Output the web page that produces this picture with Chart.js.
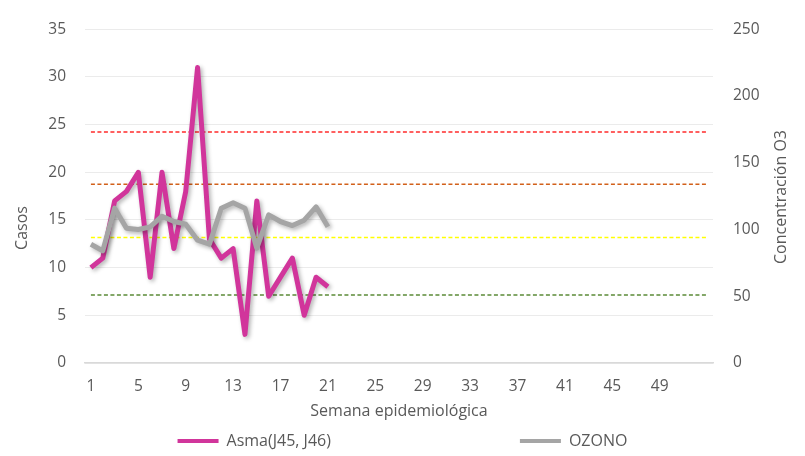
<!DOCTYPE html>
<html>
<head>
<meta charset="utf-8">
<script src="https://cdn.jsdelivr.net/npm/chart.js@4.4.0/dist/chart.umd.min.js"></script>
<style>
  html, body { margin: 0; padding: 0; background: #ffffff; }
  #wrap { width: 805px; height: 456px; position: relative; }
</style>
</head>
<body>
<div id="wrap"><canvas id="chartO3" width="805" height="456"></canvas></div>
<script>
// weeks (last category is blank, like the source sheet)
var weeks = ['1','2','3','4','5','6','7','8','9','10','11','12','13','14','15','16','17','18','19','20',
  '21','22','23','24','25','26','27','28','29','30','31','32','33','34','35','36','37','38','39','40',
  '41','42','43','44','45','46','47','48','49','50','51','52',''];

// Asma (J45, J46) - casos por semana
var asma = [10, 11, 17, 18, 20, 9, 20, 12, 18, 31, 13, 11, 12, 3, 17, 7, 9, 11, 5, 9, 8];

// OZONO - concentracion O3
var ozono = [89, 84, 116, 101, 100, 102, 110, 106, 104, 92, 89, 116, 120, 116, 86, 111, 106, 103, 107, 117, 102];

// limites de referencia O3 (eje derecho)
var limites = [173, 134, 94, 51];

var colores = { asma: "#D1359B", ozono: "#A5A5A5", texto: "#595959", grid: "#EBEBEB" };
var coloresLimite = ["#FF2B2B", "#D2601A", "#FFFF00", "#5B8A37"];

var fuente = "'Open Sans', 'DejaVu Sans', sans-serif";

// dashed reference lines, from first to last category
var limiteSets = limites.map(function(v, i) {
  return {
    label: "limite" + i,
    data: [{x: weeks[0], y: v}, {x: weeks[weeks.length - 1], y: v}],
    yAxisID: "y1",
    borderColor: coloresLimite[i],
    borderWidth: 1.5,
    borderDash: [4, 2.5],
    pointRadius: 0,
    fill: false,
    order: 3
  };
});

// Excel-like soft shadow under the two series
var sombra = {
  id: "sombra",
  beforeDatasetDraw: function(chart, args) {
    if (args.index > 1) return;
    var ctx = chart.ctx;
    ctx.save();
    ctx.shadowColor = "rgba(0,0,0,0.30)";
    ctx.shadowBlur = 4;
    ctx.shadowOffsetX = 2;
    ctx.shadowOffsetY = 2;
  },
  afterDatasetDraw: function(chart, args) {
    if (args.index > 1) return;
    chart.ctx.restore();
  }
};

// vertical axis titles, both read bottom-to-top like the original
var titulos = {
  id: "titulos",
  afterDraw: function(chart) {
    var ctx = chart.ctx;
    ctx.save();
    ctx.fillStyle = colores.texto;
    ctx.font = "16px " + fuente;
    ctx.textAlign = "center";
    ctx.textBaseline = "middle";
    ctx.translate(22, 228);
    ctx.rotate(-Math.PI / 2);
    ctx.fillText("Casos", 0, 0);
    ctx.restore();

    ctx.save();
    ctx.fillStyle = colores.texto;
    ctx.font = "16px " + fuente;
    ctx.textAlign = "center";
    ctx.textBaseline = "middle";
    ctx.translate(781, 197);
    ctx.rotate(-Math.PI / 2);
    ctx.fillText("Concentración O3", 0, 0);
    ctx.restore();
  }
};

var chart = new Chart(document.getElementById("chartO3").getContext("2d"), {
  type: "line",
  data: {
    labels: weeks,
    datasets: [
      {
        label: "Asma(J45, J46)",
        data: asma,
        yAxisID: "y",
        borderColor: colores.asma,
        backgroundColor: colores.asma,
        borderWidth: 5,
        pointRadius: 0,
        tension: 0,
        borderJoinStyle: "round",
        order: 2
      },
      {
        label: "OZONO",
        data: ozono,
        yAxisID: "y1",
        borderColor: colores.ozono,
        backgroundColor: colores.ozono,
        borderWidth: 5,
        pointRadius: 0,
        tension: 0,
        borderJoinStyle: "round",
        order: 1
      }
    ].concat(limiteSets)
  },
  options: {
    responsive: false,
    animation: false,
    layout: { padding: { top: 22, left: 0, right: 0, bottom: -3 } },
    plugins: {
      tooltip: { enabled: false },
      legend: {
        position: "bottom",
        onClick: null,
        labels: {
          color: colores.texto,
          font: { family: fuente, size: 16 },
          boxWidth: 41,
          boxHeight: 4,
          padding: 10,
          generateLabels: function(chart) {
            var ds = chart.data.datasets;
            var item = function(i) {
              return { text: ds[i].label, fillStyle: ds[i].borderColor, strokeStyle: ds[i].borderColor,
                       lineWidth: 0, hidden: false, datasetIndex: i, fontColor: colores.texto };
            };
            // blank spacer so the two entries sit apart as in the original
            var hueco = { text: "\u2003\u2003\u2003\u2003\u2003\u2003\u2003\u2002", fillStyle: "rgba(0,0,0,0)",
                          strokeStyle: "rgba(0,0,0,0)", lineWidth: 0, hidden: false };
            return [item(0), hueco, item(1)];
          }
        }
      }
    },
    scales: {
      x: {
        offset: true,
        grid: { display: true, drawOnChartArea: false, drawTicks: false },
        border: { display: true, color: "#D9D9D9", width: 1.5 },
        ticks: {
          autoSkip: false,
          maxRotation: 0,
          padding: 14,
          color: colores.texto,
          font: { family: fuente, size: 15.5 },
          callback: function(val, index) { return index % 4 === 0 ? this.getLabelForValue(val) : ""; }
        },
        title: { display: true, text: "Semana epidemiológica", color: colores.texto,
                 font: { family: fuente, size: 16 }, padding: { top: 0, bottom: 2 } },
        afterFit: function(scale) { scale.height = 60; }
      },
      y: {
        position: "left",
        min: 0,
        max: 35,
        ticks: { stepSize: 5, padding: 19, color: colores.texto, font: { family: fuente, size: 15.5 } },
        grid: { color: colores.grid, lineWidth: 1, drawTicks: false },
        border: { display: false },
        afterFit: function(scale) { scale.width = 85; }
      },
      y1: {
        position: "right",
        min: 0,
        max: 250,
        ticks: { stepSize: 50, padding: 20, color: colores.texto, font: { family: fuente, size: 15.5 } },
        grid: { display: false, drawTicks: false },
        border: { display: false },
        afterFit: function(scale) { scale.width = 92; }
      }
    }
  },
  plugins: [sombra, titulos]
});
</script>
</body>
</html>
